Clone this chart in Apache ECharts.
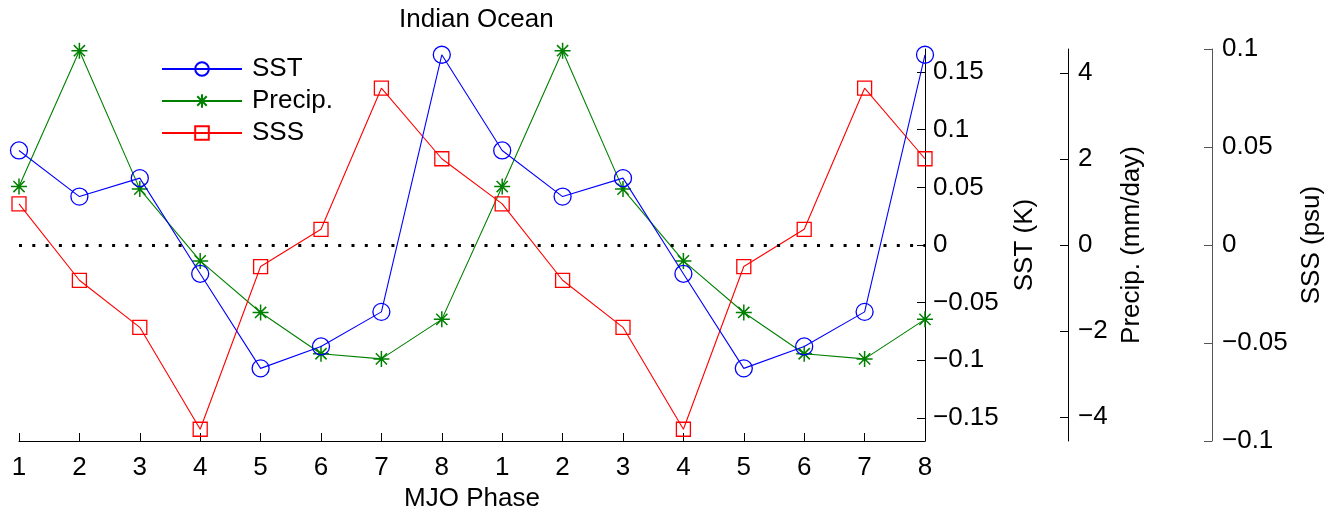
<!DOCTYPE html>
<html>
<head>
<meta charset="utf-8">
<script src="https://cdn.jsdelivr.net/npm/echarts@6/dist/echarts.min.js"></script>
<style>
html,body{margin:0;padding:0;background:#fff;}
#chart{width:1330px;height:511px;}
</style>
</head>
<body>
<div id="chart"></div>
<script>
var phases = ['1','2','3','4','5','6','7','8','1','2','3','4','5','6','7','8'];
var sst = [0.082, 0.042, 0.058, -0.025, -0.107, -0.088, -0.058, 0.165,
           0.082, 0.042, 0.058, -0.025, -0.107, -0.088, -0.058, 0.165];
var precip = [1.36, 4.52, 1.30, -0.37, -1.57, -2.53, -2.65, -1.73,
              1.36, 4.52, 1.30, -0.37, -1.57, -2.53, -2.65, -1.73];
var sss = [0.021, -0.018, -0.042, -0.094, -0.011, 0.008, 0.080, 0.044,
           0.021, -0.018, -0.042, -0.094, -0.011, 0.008, 0.080, 0.044];
var sstTicks = [-0.15, -0.1, -0.05, 0, 0.05, 0.1, 0.15];
var precipTicks = [-4, -2, 0, 2, 4];
var sssTicks = [-0.1, -0.05, 0, 0.05, 0.1];

var FONT = '"Liberation Sans", Arial, Helvetica, sans-serif';
var FS = 26;
function fmt(v){ var s = String(+(+v).toFixed(3)); return s.replace('-', '\u2212'); }

var chart = echarts.init(document.getElementById('chart'), null, {renderer:'canvas'});
var starPath = 'path://M0,-10L0,10M-10,0L10,0M-7,-7L7,7M-7,7L7,-7';

function yAx(opts){
  return {
    type:'value', position:'right', offset:opts.offset,
    min:opts.min, max:opts.max,
    name:opts.name, nameLocation:'middle', nameRotate:90, nameGap:opts.nameGap,
    nameTextStyle:{fontFamily:FONT, fontSize:FS, color:'#000'},
    axisLine:{show:true, onZero:false, lineStyle:{color:opts.lineColor||'#000', width:1}},
    axisTick:{show:true, inside:true, length:8, customValues:opts.ticks, lineStyle:{color:opts.lineColor||'#000'}},
    axisLabel:{show:true, customValues:opts.ticks, margin:opts.margin, fontFamily:FONT, fontSize:FS, color:'#000', formatter:fmt},
    splitLine:{show:false}
  };
}

var option = {
  backgroundColor:'#fff',
  animation:false,
  title:{text:'Indian Ocean', left:394, top:2, textStyle:{fontFamily:FONT, fontSize:FS, fontWeight:'normal', color:'#000'}},
  legend:{
    orient:'vertical', left:156, top:51, itemWidth:80, itemHeight:17, itemGap:6,
    textStyle:{fontFamily:FONT, fontSize:FS, color:'#000', padding:[0,0,0,5]},
    data:['SST','Precip.','SSS']
  },
  grid:{left:19, right:405, top:49, bottom:70, containLabel:false, outerBoundsMode:'none'},
  xAxis:{
    type:'category', data:phases, boundaryGap:false,
    name:'MJO Phase', nameLocation:'middle', nameGap:45,
    nameTextStyle:{fontFamily:FONT, fontSize:FS, color:'#000'},
    axisLine:{show:true, onZero:false, lineStyle:{color:'#000', width:1}},
    axisTick:{show:true, inside:true, length:8, lineStyle:{color:'#000'}},
    axisLabel:{margin:14, fontFamily:FONT, fontSize:FS, color:'#000', interval:0},
    splitLine:{show:false}
  },
  yAxis:[
    yAx({offset:0, min:-0.17, max:0.17, ticks:sstTicks, name:'SST (K)', nameGap:87, margin:8}),
    yAx({offset:143, min:-4.56, max:4.56, ticks:precipTicks, name:'Precip. (mm/day)', nameGap:49, margin:10}),
    yAx({offset:287, min:-0.1, max:0.1, ticks:sssTicks, name:'SSS (psu)', nameGap:79, margin:10, lineColor:'#555'})
  ],
  series:[
    {
      name:'SST', type:'line', yAxisIndex:0, data:sst,
      symbol:'circle', symbolSize:17, showAllSymbol:true,
      lineStyle:{color:'#0000ff', width:1.1},
      itemStyle:{color:'rgba(0,0,0,0)', borderColor:'#0000ff', borderWidth:1.3},
      z:3,
      markLine:{
        silent:true, symbol:'none', label:{show:false},
        lineStyle:{color:'#000', width:3, type:[3,10.3]},
        data:[{yAxis:0}]
      }
    },
    {
      name:'Precip.', type:'line', yAxisIndex:1, data:precip,
      symbol:starPath, symbolSize:16, showAllSymbol:true,
      lineStyle:{color:'#008000', width:1.1},
      itemStyle:{color:'rgba(0,0,0,0)', borderColor:'#008000', borderWidth:1.5},
      z:2
    },
    {
      name:'SSS', type:'line', yAxisIndex:2, data:sss,
      symbol:'rect', symbolSize:14, showAllSymbol:true,
      lineStyle:{color:'#ff0000', width:1.1},
      itemStyle:{color:'rgba(0,0,0,0)', borderColor:'#ff0000', borderWidth:1.3},
      z:2
    }
  ]
};
chart.setOption(option);
</script>
</body>
</html>
